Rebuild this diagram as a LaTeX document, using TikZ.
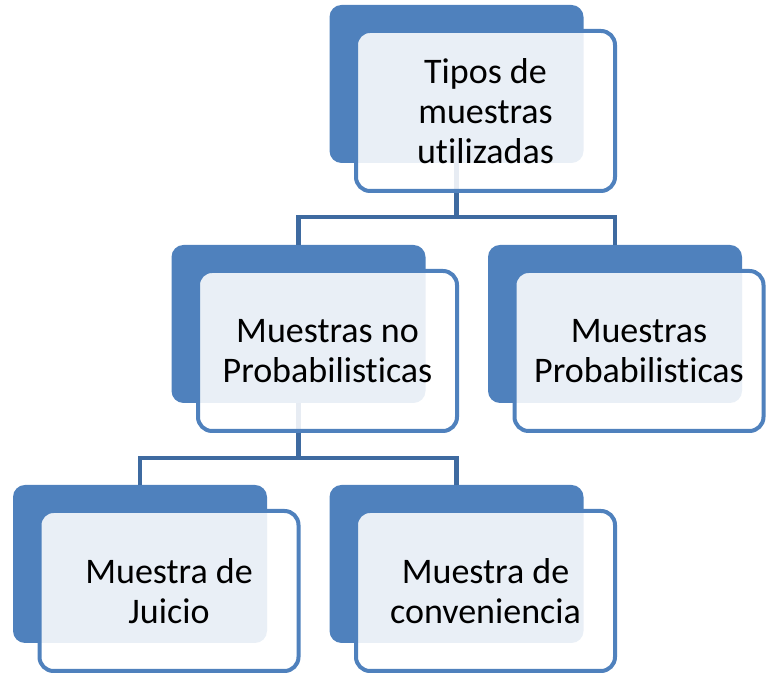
\documentclass[tikz,border=0pt]{standalone}
\usepackage{fontspec}
\setmainfont{Carlito}[Ligatures=CommonOff]
\definecolor{smartblue}{RGB}{79,129,189}
\definecolor{linkblue}{RGB}{62,106,160}
\tikzstyle{backbox} = [rectangle, rounded corners=12pt, minimum width=254pt, minimum height=158pt, fill=smartblue, draw=none, inner sep=0pt]
\tikzstyle{frontbox} = [rectangle, rounded corners=14pt, minimum width=259pt, minimum height=160pt, draw=smartblue, line width=4pt, fill=white, fill opacity=0.88, text opacity=1, align=center, font=\fontsize{36pt}{40pt}\selectfont]
\tikzstyle{link} = [line width=4.5pt, draw=linkblue]

\begin{document}
\begin{tikzpicture}[node distance=240pt, x=1pt, y=1pt]
  \useasboundingbox (0,0) rectangle (766,676);
  \node (b0) [backbox] at (456.5,592) {};
  \node (b1) [backbox, below of=b0, xshift=-158pt] {};
  \node (b2) [backbox, below of=b0, xshift=158.5pt] {};
  \node (b3) [backbox, below of=b1, xshift=-158.5pt] {};
  \node (b4) [backbox, below of=b1, xshift=158pt] {};

  % connectors
  \draw [link] (b0.south) -- ++(0,-54) -| (b1.north);
  \draw [link] (b0.south) -- ++(0,-54) -| (b2.north);
  \draw [link] (b1.south) -- ++(0,-55) -| (b3.north);
  \draw [link] (b1.south) -- ++(0,-55) -| (b4.north);

  \node (f0) [frontbox, xshift=29pt, yshift=-27pt] at (b0) {Tipos de\\muestras\\utilizadas};
  \node (f1) [frontbox, xshift=29pt, yshift=-27pt] at (b1) {Muestras no\\Probabilisticas};
  \node (f2) [frontbox, minimum width=249pt, xshift=24pt, yshift=-27pt] at (b2) {Muestras\\Probabilisticas};
  \node (f3) [frontbox, xshift=29pt, yshift=-27pt] at (b3) {Muestra de\\Juicio};
  \node (f4) [frontbox, xshift=29pt, yshift=-27pt] at (b4) {Muestra de\\conveniencia};
\end{tikzpicture}
\end{document}
